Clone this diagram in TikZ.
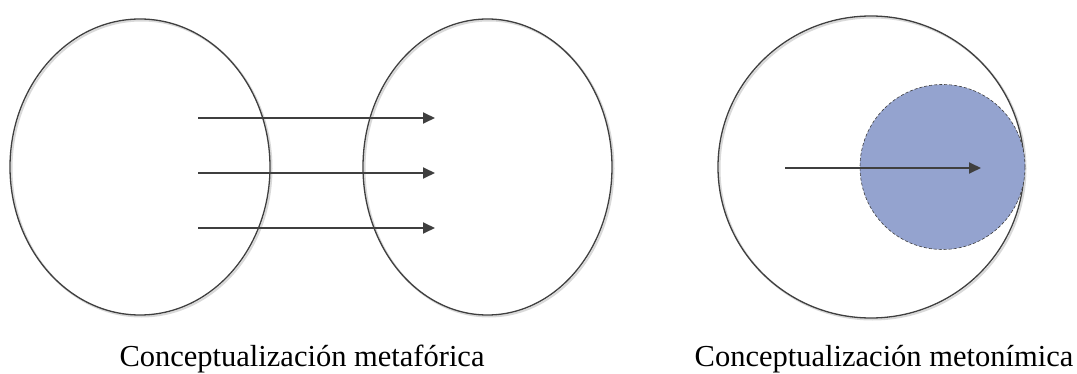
\documentclass[tikz,border=0pt]{standalone}
\usepackage{fontspec}
\setmainfont{Liberation Serif}
\usetikzlibrary{shapes.geometric,arrows.meta}
\definecolor{linegray}{HTML}{3F3F3F}
\definecolor{fillblue}{HTML}{94A3CF}
\tikzset{
  domain/.style={ellipse, draw=linegray, line width=1.3pt, inner sep=0pt, minimum width=#1},
  shadowed/.style={preaction={draw=black!15, line width=2pt, transform canvas={shift={(1.5pt,-1.5pt)}}}},
  maparrow/.style={draw=linegray, line width=1.8pt, -{Triangle[length=12pt,width=11pt]}},
  caption/.style={anchor=base, font=\fontsize{30.5pt}{34pt}\selectfont, inner sep=0pt}
}
\begin{document}
\begin{tikzpicture}[x=1pt,y=-1pt]
\useasboundingbox (0,0) rectangle (1077,374);
% metaphor
\node[domain=260pt, minimum height=296pt, shadowed] (src) at (140,167) {};
\node[domain=249pt, minimum height=296pt, shadowed] (tgt) at (487.5,167) {};
\coordinate (a1s) at (198,118); \coordinate (a1e) at (435,118);
\coordinate (a2s) at (198,173); \coordinate (a2e) at (435,173);
\coordinate (a3s) at (198,228); \coordinate (a3e) at (435,228);
\draw[maparrow] (a1s) -- (a1e);
\draw[maparrow] (a2s) -- (a2e);
\draw[maparrow] (a3s) -- (a3e);
\node[caption] (cap1) at (302,366) {Conceptualización metafórica};
% metonymy
\node[domain=306pt, minimum height=302pt, shadowed] (whole) at (871,167) {};
\node[circle, fill=fillblue, draw=linegray, densely dashed, line width=0.6pt, minimum size=165pt, inner sep=0pt] (part) at (942.5,167) {};
\coordinate (b1s) at (785,168); \coordinate (b1e) at (981,168);
\draw[maparrow] (b1s) -- (b1e);
\node[caption] (cap2) at (884,366) {Conceptualización metonímica};
\end{tikzpicture}
\end{document}
